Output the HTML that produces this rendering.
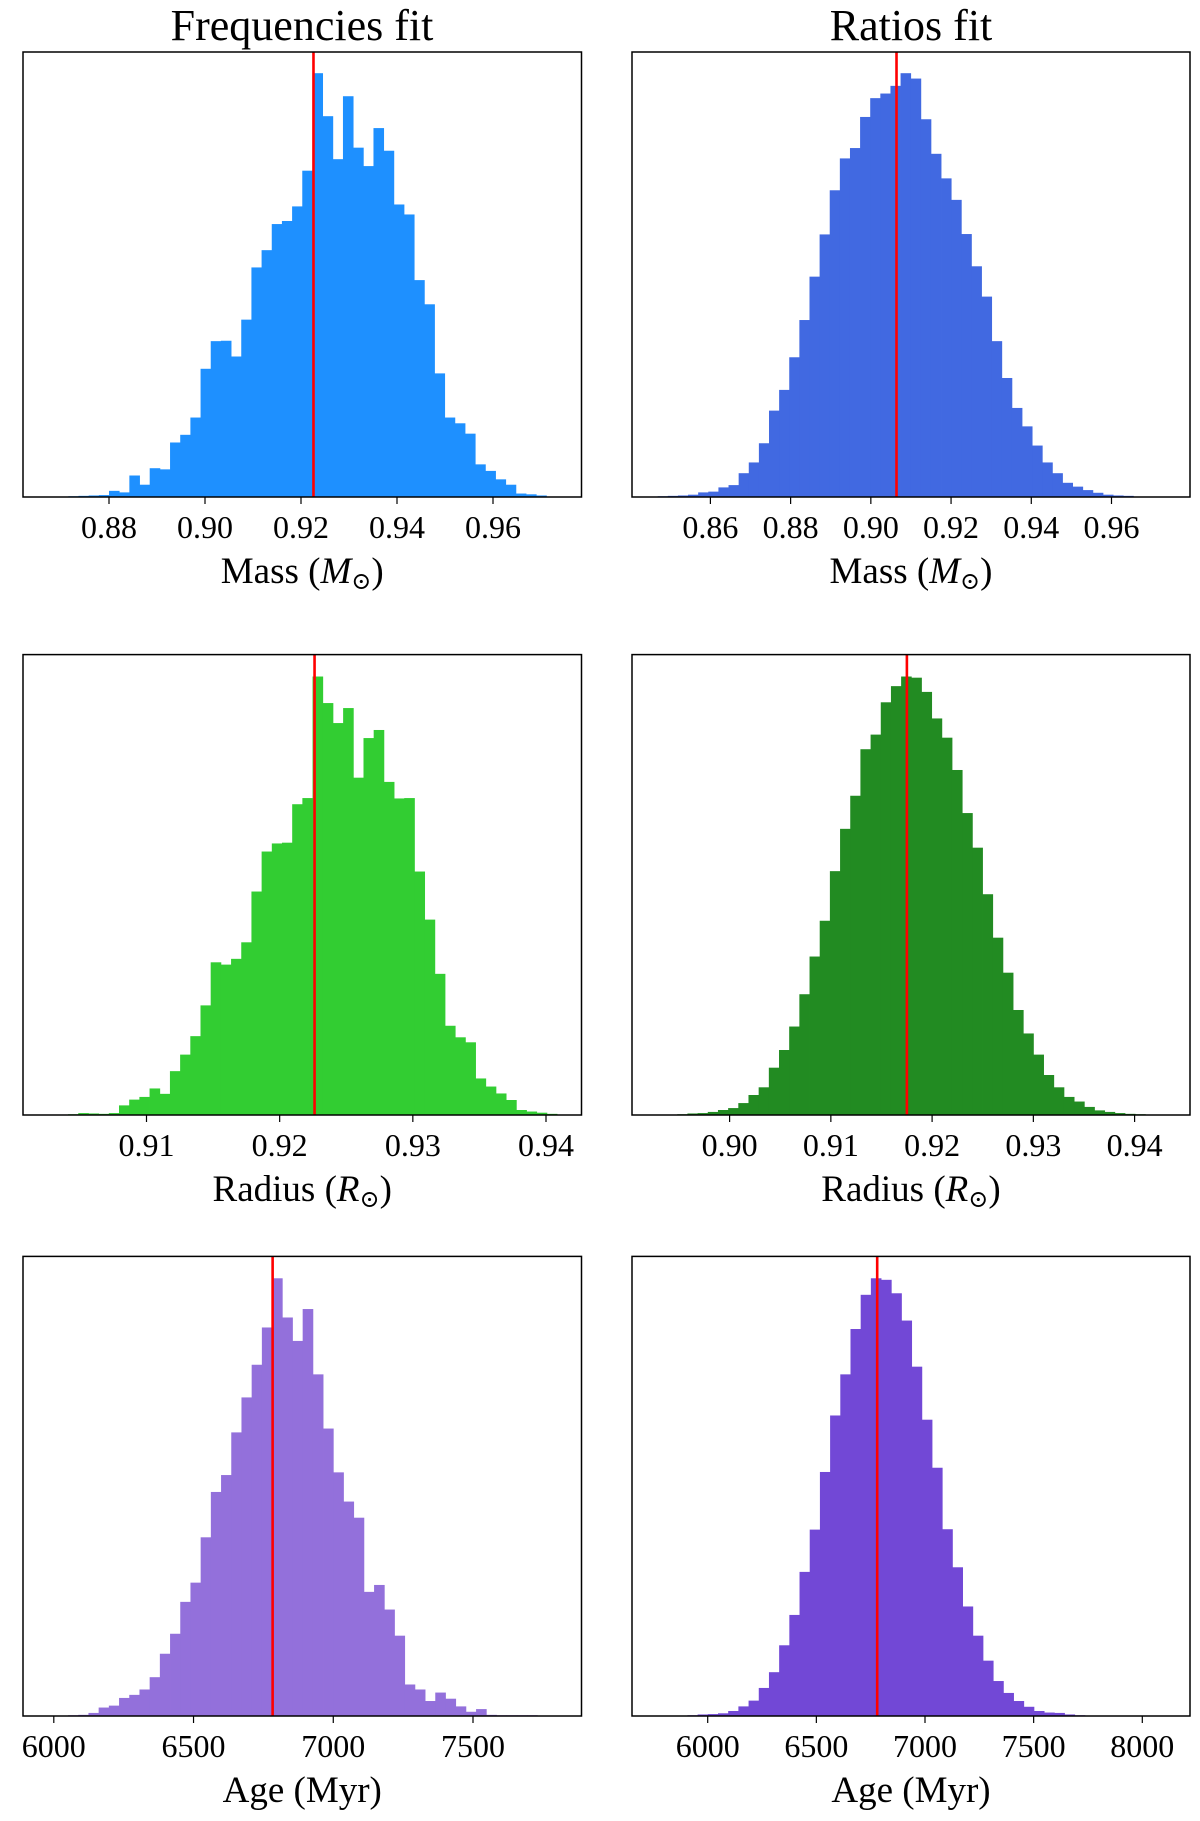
<!DOCTYPE html>
<html><head><meta charset="utf-8">
<style>
html,body{margin:0;padding:0;background:#fff;}
svg{display:block;font-family:"Liberation Serif","DejaVu Serif",serif;}
</style></head>
<body>
<svg id="fig" width="1200" height="1821" viewBox="0 0 1200 1821" xmlns="http://www.w3.org/2000/svg">
<text x="302" y="40" font-size="44" text-anchor="middle">Frequencies fit</text>
<text x="911" y="40" font-size="44" text-anchor="middle">Ratios fit</text>
</svg>
<script>
// ---- data: bin starts, bin widths, counts, reference line values, ticks ----
const massFreqStart = 0.86729, massFreqWidth = 0.002119;
const massFreqCounts = [1,1,2,3,4,5,16,12,56,32,75,72,142,162,207,334,406,407,366,462,598,643,711,719,757,850,1104,992,880,1044,910,862,961,902,762,736,565,502,322,207,192,165,85,68,46,32,9,7,4,1];
const massFreqBest = 0.9226;
const massFreqTicks = [0.88,0.90,0.92,0.94,0.96];
const massFreqTickLabels = ["0.88","0.90","0.92","0.94","0.96"];

const massRatStart = 0.84686, massRatWidth = 0.002523;
const massRatCounts = [2,3,4,6,12,14,25,31,62,90,140,225,279,364,461,574,684,799,882,909,990,1039,1051,1071,1104,1090,984,894,830,774,685,601,522,406,310,232,184,134,90,62,37,27,18,11,6,4,3,1];
const massRatBest = 0.9064;
const massRatTicks = [0.86,0.88,0.90,0.92,0.94,0.96];
const massRatTickLabels = ["0.86","0.88","0.90","0.92","0.94","0.96"];

const radFreqStart = 0.90258, radFreqWidth = 0.000765;
const radFreqCounts = [1,1,2,5,4,3,5,25,40,47,69,55,114,157,205,285,397,391,406,449,581,685,706,708,808,824,1140,1071,1019,1058,877,980,1001,866,823,824,633,508,367,232,202,189,95,74,56,39,13,9,6,3];
const radFreqBest = 0.92262;
const radFreqTicks = [0.91,0.92,0.93,0.94];
const radFreqTickLabels = ["0.91","0.92","0.93","0.94"];

const radRatStart = 0.89282, radRatWidth = 0.001005;
const radRatCounts = [1,1,2,4,5,8,13,18,31,52,72,123,169,230,314,412,505,634,744,830,951,989,1073,1115,1140,1137,1100,1031,981,897,785,695,574,461,370,273,212,157,104,72,47,35,21,12,8,5,3,2,1];
const radRatBest = 0.91751;
const radRatTicks = [0.90,0.91,0.92,0.93,0.94];
const radRatTickLabels = ["0.90","0.91","0.92","0.93","0.94"];

const ageFreqStart = 5978, ageFreqWidth = 36.5;
const ageFreqCounts = [1,1,2,3,8,22,27,47,55,69,101,162,214,297,347,465,583,627,738,829,914,1011,1139,1037,976,1059,889,748,634,558,516,323,341,277,209,82,69,39,61,45,25,11,18,3,2,2,2,2,1,1];
const ageFreqBest = 6783;
const ageFreqTicks = [6000,6500,7000,7500];
const ageFreqTickLabels = ["6000","6500","7000","7500"];

const ageRatStart = 5766, ageRatWidth = 46.9;
const ageRatCounts = [1,1,1,2,4,5,7,13,25,40,73,114,184,263,375,485,635,782,889,1007,1096,1139,1135,1100,1029,909,771,646,486,387,285,209,144,91,60,39,24,13,9,8,4,2,1,1,1,1,1,1,1,1];
const ageRatBest = 6780;
const ageRatTicks = [6000,6500,7000,7500,8000];
const ageRatTickLabels = ["6000","6500","7000","7500","8000"];

const NS = "http://www.w3.org/2000/svg";
const fig = document.getElementById('fig');
function mk(tag, attrs, parent){const e=document.createElementNS(NS,tag);for(const k in attrs)e.setAttribute(k,attrs[k]);(parent||fig).appendChild(e);return e;}

function panel(cfg){
  const g = mk('g',{});
  
  
  const {L,R,T,B} = cfg;
  // x axis function: linear from two reference ticks
  const xs = v => cfg.px0 + (v - cfg.v0) * (cfg.px1 - cfg.px0) / (cfg.v1 - cfg.v0);
  const ymax = Math.max(...cfg.counts) * 1.05;
  const ys = c => B - c / ymax * (B - T);
  cfg.counts.forEach((c,i)=>{
    const x0 = xs(cfg.start + i*cfg.width), x1 = xs(cfg.start + (i+1)*cfg.width);
    const r = mk('rect',{x:x0,y:ys(c),width:Math.max(0,x1-x0+0.4),height:B-ys(c),fill:cfg.color},g);
    
    
  });
  const bx = xs(cfg.best);
  const ln = mk('line',{x1:bx,x2:bx,y1:T,y2:B,stroke:'#ff0000','stroke-width':2.6},g);
  
  
  const fr = mk('rect',{x:L,y:T,width:R-L,height:B-T,fill:'none',stroke:'#000','stroke-width':1.5},g);
  
  
  cfg.ticks.forEach((t,i)=>{
    const tx = xs(t);
    const tk = mk('line',{x1:tx,x2:tx,y1:B,y2:B+7,stroke:'#000','stroke-width':1.2},g);
    
    
    const tl = mk('text',{x:tx,y:B+41,'font-size':32,'text-anchor':'middle'},g);
    tl.textContent = cfg.tickLabels[i];
    
    
  });
  const xl = mk('text',{x:(L+R)/2,y:B+86,'font-size':37,'text-anchor':'middle'},g);
  
  
  xl.innerHTML = cfg.label;
}

const rows = [{T:52,B:497},{T:654.6,B:1115},{T:1256.4,B:1716}];
const LC = {L:23,R:581.5}, RC = {L:632,R:1190};
const sun = '<tspan font-size="24" dy="6">\u2299</tspan><tspan dy="-6">)</tspan>';

panel({name:'mass-frequencies-panel',...LC,...rows[0],px0:109,v0:0.88,px1:493,v1:0.96,start:massFreqStart,width:massFreqWidth,counts:massFreqCounts,best:massFreqBest,ticks:massFreqTicks,tickLabels:massFreqTickLabels,color:'#1e90ff',label:'Mass (<tspan font-style="italic">M</tspan>'+sun});
panel({name:'mass-ratios-panel',...RC,...rows[0],px0:710.4,v0:0.86,px1:1111.5,v1:0.96,start:massRatStart,width:massRatWidth,counts:massRatCounts,best:massRatBest,ticks:massRatTicks,tickLabels:massRatTickLabels,color:'#4169e1',label:'Mass (<tspan font-style="italic">M</tspan>'+sun});
panel({name:'radius-frequencies-panel',...LC,...rows[1],px0:146.5,v0:0.91,px1:546,v1:0.94,start:radFreqStart,width:radFreqWidth,counts:radFreqCounts,best:radFreqBest,ticks:radFreqTicks,tickLabels:radFreqTickLabels,color:'#32cd32',label:'Radius (<tspan font-style="italic">R</tspan>'+sun});
panel({name:'radius-ratios-panel',...RC,...rows[1],px0:729.6,v0:0.90,px1:1134.6,v1:0.94,start:radRatStart,width:radRatWidth,counts:radRatCounts,best:radRatBest,ticks:radRatTicks,tickLabels:radRatTickLabels,color:'#228b22',label:'Radius (<tspan font-style="italic">R</tspan>'+sun});
panel({name:'age-frequencies-panel',...LC,...rows[2],px0:53.8,v0:6000,px1:473,v1:7500,start:ageFreqStart,width:ageFreqWidth,counts:ageFreqCounts,best:ageFreqBest,ticks:ageFreqTicks,tickLabels:ageFreqTickLabels,color:'#9370db',label:'Age (Myr)'});
panel({name:'age-ratios-panel',...RC,...rows[2],px0:707.7,v0:6000,px1:1142.3,v1:8000,start:ageRatStart,width:ageRatWidth,counts:ageRatCounts,best:ageRatBest,ticks:ageRatTicks,tickLabels:ageRatTickLabels,color:'#7248d6',label:'Age (Myr)'});
</script>
</body></html>
